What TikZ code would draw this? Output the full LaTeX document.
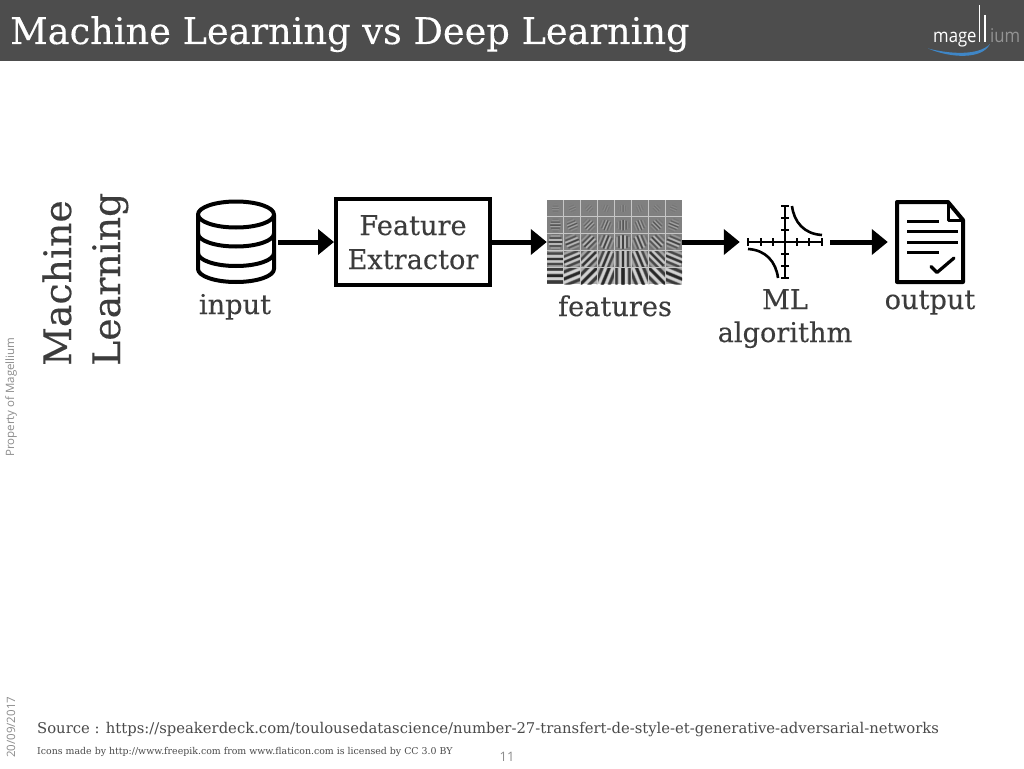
\documentclass[tikz,border=0pt]{standalone}
\usepackage{fontspec}
\setmainfont[FakeBold=0.25]{DejaVu Serif}
\newfontfamily\footfont{DejaVu Serif}
\newfontfamily\sidefont{Open Sans}
\newfontfamily\logofont[FakeStretch=0.88]{Open Sans}
\usetikzlibrary{arrows.meta}
\definecolor{hdr}{HTML}{4D4D4D}
\definecolor{txt}{HTML}{3C3C3C}
\definecolor{foottxt}{HTML}{4A4A4A}
\definecolor{sidegray}{HTML}{8C8C8C}
\definecolor{swoosh}{HTML}{3F86C6}
\definecolor{cellgray}{HTML}{808080}
\newcommand{\fs}[1]{\fontsize{#1}{#1}\selectfont}
\tikzset{
  x=1pt,y=-1pt,
  lbl/.style={text=txt,inner sep=0pt,anchor=base,font=\fs{27.2}},
  vlbl/.style={text=txt,inner sep=0pt,rotate=90,anchor=base west,font=\fs{37.8}},
  ghost/.style={inner sep=0pt,minimum width=#1,minimum height=30pt},
  flow/.style={line width=5pt,-{Triangle[length=16pt,width=25pt]},black},
  icon/.style={line width=4pt,black,line join=round},
  axisline/.style={line width=2.6pt,black},
  foot/.style={text=foottxt,inner sep=0pt,anchor=west},
  side/.style={text=sidegray,inner sep=0pt,rotate=90,anchor=west,font=\sidefont\fs{11.5}},
}
\begin{document}
\begin{tikzpicture}
\useasboundingbox (0,0) rectangle (1024,768);
\fill[white] (0,0) rectangle (1024,768);
\fill[hdr] (0,0) rectangle (1024,61);
\node[anchor=base west,inner sep=0pt,text=white,font=\fs{36.7}] (title) at (10,44) {Machine Learning vs Deep Learning};
% logo
\node[anchor=base west,inner sep=0pt,text=white,font=\logofont\fs{19}] (logoa) at (933,42) {mage};
\node[anchor=base west,inner sep=0pt,text=gray!85,font=\logofont\fs{19}] (logob) at (990,42) {ium};
\draw[white,line width=1.6pt] (979.5,5) -- (979.5,42);
\draw[white,line width=1.6pt] (985,15) -- (985,42);
\fill[swoosh] (928,48.5) .. controls (950,54) and (978,56) .. (990,44) .. controls (982,60) and (950,58) .. (928,48.5) -- cycle;
% side
\node[vlbl] (ml1) at (71,366) {Machine};
\node[vlbl] (ml2) at (120,366) {Learning};
\node[side] (prop) at (11,457) {Property of Magellium};
\node[side] (date) at (11,758) {20/09/2017};
% anchors of the flow
\node[ghost=80pt] (db) at (238,242) {};
\node[draw=black,line width=4pt,minimum width=154pt,minimum height=86pt,inner sep=0pt] (fe) at (413,242) {};
\node[lbl] (fe1) at (413,235) {Feature};
\node[lbl] (fe2) at (413,269) {Extractor};
\node[ghost=135pt] (grid) at (614.5,242) {};
\node[ghost=90pt] (axes) at (785,242) {};
\node[ghost=84pt] (doc) at (930,242) {};
% cylinder
\begin{scope}[icon]
\draw (236,214.5) ellipse [x radius=38,y radius=13];
\draw (198,214.5) -- (198,269) arc [start angle=180,end angle=0,x radius=38,y radius=13] -- (274,214.5);
\draw (198,233.5) arc [start angle=180,end angle=0,x radius=38,y radius=13];
\draw (198,253) arc [start angle=180,end angle=0,x radius=38,y radius=13];
\end{scope}
% gabor grid
\fill[cellgray] (547,200) rectangle (682,284);
\foreach \c in {0,...,7}{
 \foreach \r/\op/\per/\env in {0/0.12/2.5/4,1/0.35/3/6,2/0.55/4/8,3/0.75/5.2/11,4/0.9/6.5/15}{
  \pgfmathsetmacro{\cx}{547+16.875*\c+8.44}
  \pgfmathsetmacro{\cy}{200+16.8*\r+8.4}
  \pgfmathsetmacro{\ang}{22.5*\c}
  \pgfmathsetmacro{\dxa}{cos(\ang)}
  \pgfmathsetmacro{\dya}{-sin(\ang)}
  \begin{scope}
  \clip (\cx-8.44,\cy-8.4) rectangle (\cx+8.44,\cy+8.4);
  \foreach \m in {-4,...,4}{
   \pgfmathsetmacro{\off}{\m*\per/2}
   \pgfmathsetmacro{\amp}{\op*exp(-(\off*\off)/(\env*\env*0.55))}
   \pgfmathsetmacro{\hl}{\env*0.8*exp(-(\off*\off)/(\env*\env*1.5))}
   \pgfmathsetmacro{\px}{\cx+\off*sin(\ang)}
   \pgfmathsetmacro{\py}{\cy+\off*cos(\ang)}
   \pgfmathtruncatemacro{\odd}{mod(abs(\m),2)}
   \ifnum\odd=0 \def\sc{black}\else\def\sc{white}\fi
   \draw[\sc,opacity=0.5*\amp,line width=\per*0.5,line cap=round] (\px-\hl*\dxa,\py-\hl*\dya) -- (\px+\hl*\dxa,\py+\hl*\dya);
   \draw[\sc,opacity=0.5*\amp,line width=\per*0.28,line cap=round] (\px-\hl*\dxa,\py-\hl*\dya) -- (\px+\hl*\dxa,\py+\hl*\dya);
  }
  \end{scope}
 }
}
\foreach \c in {1,...,7} \draw[gray!45,line width=0.9pt] (547+16.875*\c,200) -- (547+16.875*\c,284);
\foreach \r in {1,...,4} \draw[gray!45,line width=0.9pt] (547,200+16.8*\r) -- (682,200+16.8*\r);
% axes
\begin{scope}[axisline]
\draw (748,242) -- (822,242);
\draw (785,206) -- (785,278);
\foreach \t in {748,761,773,797,809,822} \draw (\t,238) -- (\t,246);
\foreach \t in {206,218,230,254,266,278} \draw (781,\t) -- (789,\t);
\draw (792,206) .. controls (794,222) and (804,234) .. (822,235);
\draw (748,249) .. controls (766,250) and (776,262) .. (778,278);
\end{scope}
% document
\begin{scope}[icon]
\draw (948,202) -- (897,202) -- (897,282) -- (963,282) -- (963,220) -- cycle;
\draw[line width=3pt] (948,202) -- (948,220) -- (963,220);
\draw[line width=3pt] (907,221) -- (939,221);
\draw[line width=3pt] (907,231) -- (958,231);
\draw[line width=3pt] (907,242) -- (958,242);
\draw[line width=3pt] (907,252.5) -- (939,252.5);
\draw[line width=3.2pt,line cap=round] (931,266.5) -- (937,272.5) -- (954,258);
\end{scope}
% connectors
\draw[flow] (db.east) -- (fe.west);
\draw[flow] (fe.east) -- (grid.west);
\draw[flow] (grid.east) -- (axes.west);
\draw[flow] (axes.east) -- (doc.west);
% labels
\node[lbl] (l1) at (235,314) {input};
\node[lbl] (l2) at (615,316) {features};
\node[lbl] (l3) at (785,309) {ML};
\node[lbl] (l4) at (785,342) {algorithm};
\node[lbl] (l5) at (930,309) {output};
% footer
\node[foot,font=\footfont\fs{14.8}] (src) at (37,730) {Source : https://speakerdeck.com/toulousedatascience/number-27-transfert-de-style-et-generative-adversarial-networks};
\node[foot,font=\footfont\fs{9.4}] (ic) at (37,752) {Icons made by http://www.freepik.com from www.flaticon.com  is licensed by CC 3.0 BY};
\node[inner sep=0pt,text=sidegray,font=\sidefont\fs{13}] (pg) at (507,757) {11};
\end{tikzpicture}
\end{document}
